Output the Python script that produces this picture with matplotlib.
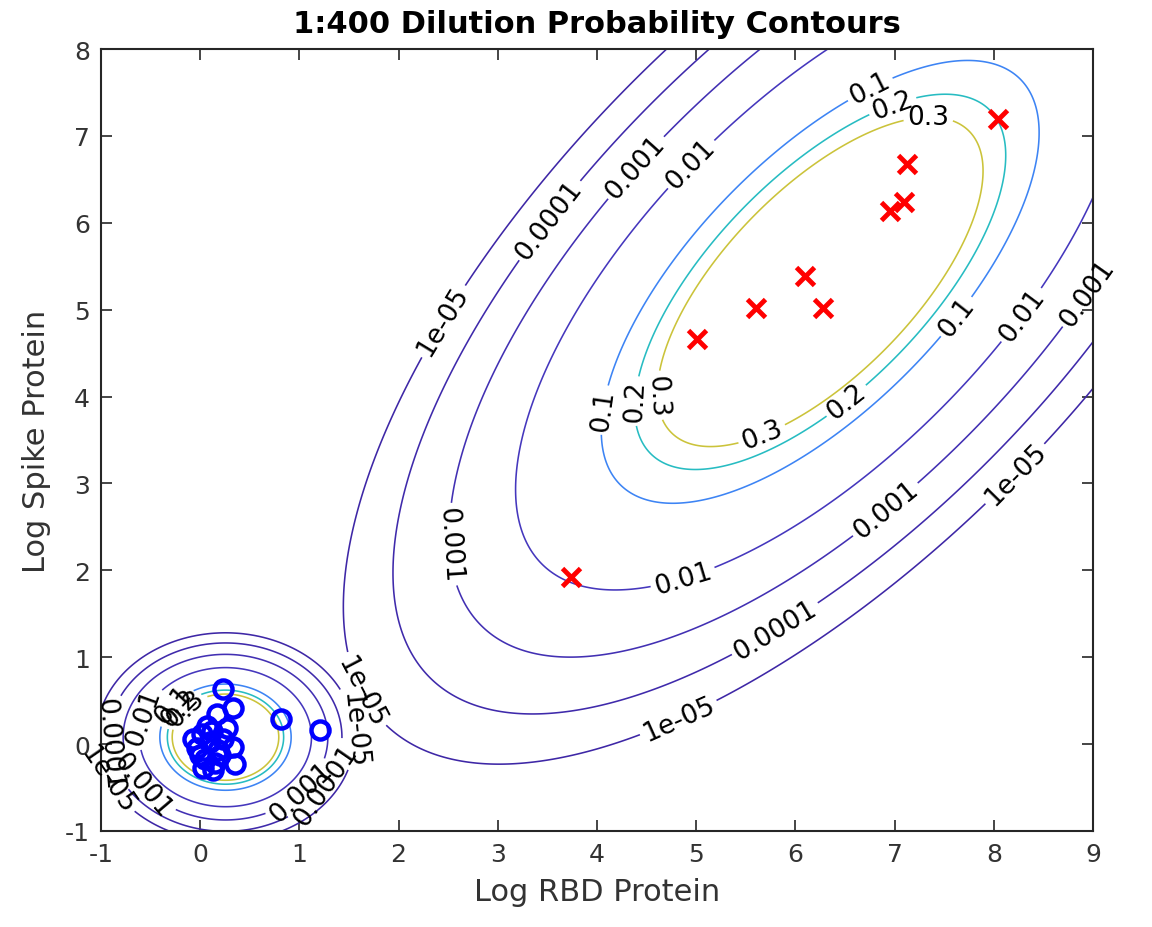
import numpy as np
import matplotlib.pyplot as plt

plt.rcParams['axes.unicode_minus'] = False

# data
red_x = [3.74, 5.01, 5.60, 6.10, 6.28, 6.95, 7.09, 7.13, 8.04]
red_y = [1.92, 4.66, 5.02, 5.39, 5.02, 6.14, 6.24, 6.68, 7.19]

blue_x = [0.23, 0.81, 0.33, 0.17, 0.35, 0.20, 0.33, -0.07, -0.03, 0.02, 0.07,
          0.10, 0.05, 0.03, 0.13, 0.23, 0.18, 0.27, 1.21, 0.12, 0.00, 0.15]
blue_y = [0.64, 0.29, 0.41, 0.35, -0.23, -0.13, -0.03, 0.06, -0.05, 0.12, 0.21,
          0.02, -0.17, -0.27, -0.30, 0.06, -0.07, 0.18, 0.16, 0.15, -0.12, -0.22]

levels = [1e-5, 1e-4, 1e-3, 1e-2, 0.1, 0.2, 0.3]

red_mean = np.array([6.25, 5.32])
red_cov = np.array([[0.99, 0.77], [0.77, 1.32]])
red_peak = 1.17

blue_mean = np.array([0.255, 0.08])
blue_cov = np.array([[0.068, 0.0], [0.0, 0.058]])
blue_peak = 2.5

lvl_colors = ['#3e27a6', '#3f2aab', '#4230b3', '#4537bd', '#3d84f4', '#27bcc2', '#cbc33a']


def dens(X, Y, mu, cov, peak):
    ic = np.linalg.inv(cov)
    dx = X - mu[0]; dy = Y - mu[1]
    m = ic[0, 0]*dx*dx + 2*ic[0, 1]*dx*dy + ic[1, 1]*dy*dy
    return peak*np.exp(-0.5*m)


def snap(mu, cov, peak, lev, pt):
    # push a rough label spot onto the contour of that level
    d = np.array(pt) - mu
    m = d @ np.linalg.inv(cov) @ d
    return tuple(mu + d*np.sqrt(2*np.log(peak/lev)/m))


xx = np.linspace(-1, 9, 901)
yy = np.linspace(-1, 8, 811)
X, Y = np.meshgrid(xx, yy)
Zr = dens(X, Y, red_mean, red_cov, red_peak)
Zb = dens(X, Y, blue_mean, blue_cov, blue_peak)

red_lab = [(1e-5, (2.62, 4.89)), (1e-5, (4.84, 0.35)), (1e-5, (8.16, 3.17)), (1e-5, (1.66, 0.64)),
           (1e-4, (3.68, 5.99)), (1e-4, (5.84, 1.67)), (1e-4, (9.0, 5.0)),
           (1e-3, (4.33, 6.68)), (1e-3, (2.8, 2.53)), (1e-3, (6.85, 2.94)),
           (1e-2, (4.73, 6.9)), (1e-2, (4.89, 1.96)), (1e-2, (8.21, 4.95)),
           (0.1, (6.75, 7.54)), (0.1, (4.08, 3.86)), (0.1, (7.51, 4.95)),
           (0.2, (7.0, 7.42)), (0.2, (4.33, 3.91)), (0.2, (6.5, 4.03)),
           (0.3, (7.36, 7.25)), (0.3, (4.48, 3.91)), (0.3, (5.69, 3.63))]
blue_lab = [(1e-5, (1.46, 0.17)), (1e-5, (-0.93, 0.0)),
            (1e-4, (1.05, -0.35)), (1e-4, (-0.85, -0.35)),
            (1e-3, (0.95, -0.5)), (1e-3, (-0.7, -0.55)),
            (1e-2, (-0.5, 0.29)), (0.1, (-0.2, 0.4)), (0.2, (-0.12, 0.36)), (0.3, (-0.05, 0.33))]

fig = plt.figure(figsize=(11.52, 9.28), dpi=100)
ax = fig.add_axes([101/1152, 1-832/928, (1093-101)/1152, (832-50)/928])

csr = ax.contour(X, Y, Zr, levels=levels, colors=lvl_colors, linewidths=1.15)
csb = ax.contour(X, Y, Zb, levels=levels, colors=lvl_colors, linewidths=1.15)
tr = csr.clabel(levels, manual=[snap(red_mean, red_cov, red_peak, l, p) for l, p in red_lab],
                inline=True, fmt='%g', fontsize=19, colors='k', inline_spacing=4)
tb = csb.clabel(levels, manual=[snap(blue_mean, blue_cov, blue_peak, l, p) for l, p in blue_lab],
                inline=True, fmt='%g', fontsize=19, colors='k', inline_spacing=4)
for t in list(tr) + list(tb):
    t.set_clip_on(False)

ax.plot(red_x, red_y, 'x', color='red', ms=13, mew=3.5, ls='none')
ax.plot(blue_x, blue_y, 'o', mfc='none', mec='blue', ms=13, mew=3.2, ls='none')

ax.set_xlim(-1, 9); ax.set_ylim(-1, 8)
ax.set_xticks(range(-1, 10)); ax.set_yticks(range(-1, 9))
ax.tick_params(direction='in', top=True, right=True, length=8, width=1.2,
               labelsize=18, labelcolor='#333333', color='#262626', pad=8)
for s in ax.spines.values():
    s.set_color('#262626'); s.set_linewidth(1.5)
ax.set_xlabel('Log RBD Protein', fontsize=22, color='#333333', labelpad=8)
ax.set_ylabel('Log Spike Protein', fontsize=22, color='#333333', labelpad=10)
ax.set_title('1:400 Dilution Probability Contours', fontsize=22, fontweight='bold', pad=12)

fig.savefig('out.png', dpi=100)
